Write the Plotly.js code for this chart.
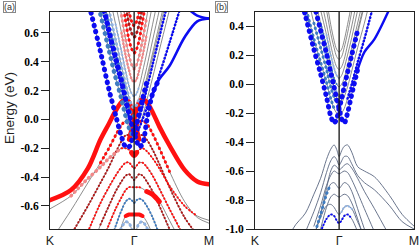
<!DOCTYPE html>
<html><head><meta charset="utf-8">
<script src="https://cdn.plot.ly/plotly-3.0.1.min.js"></script>
<style>html,body{margin:0;padding:0;background:#fff}#c{width:420px;height:248px}</style>
</head><body><div id="c"></div>
<script>
const _ = null;
// k path: K=0, Gamma=1, M=1.89
const kGrid = [0,0.25,0.45,0.6,0.7,0.78,0.85,0.9,0.94,0.97,1.0,1.03,1.06,1.1,1.15,1.22,1.3,1.42,1.6,1.75,1.89];
const kTickPos = [0,1,1.89];
const kLabels = ['K','\u0393','M'];
const yTicksA = [-0.6,-0.4,-0.2,0,0.2,0.4,0.6];
const yTicksB = [-1.0,-0.8,-0.6,-0.4,-0.2,0,0.2,0.4];
// panel (a) valence bands (eV)
const VA1L = [-0.56,-0.49,-0.34,-0.14,-0.03,0.06,0.12,0.14,0.12,0.07,0.0,-0.07,-0.14,_,_,_,_,_,_,_,_];
const VA1R = [_,_,_,_,_,_,_,_,-0.14,-0.07,0.0,0.07,0.12,0.14,0.12,0.05,-0.05,-0.18,-0.35,-0.43,-0.45];
const VA3  = [-0.85,-0.63,-0.44,-0.3,-0.2,-0.11,-0.04,-0.01,-0.02,-0.05,-0.06,-0.05,-0.02,-0.01,-0.03,-0.1,-0.2,-0.36,-0.57,-0.68,-0.72];
const VA3b = [-1.0,-0.8,-0.6,-0.44,-0.33,-0.23,-0.15,-0.11,-0.11,-0.13,-0.14,-0.13,-0.11,-0.11,-0.14,-0.21,-0.31,-0.47,-0.68,-0.8,-0.85];
const VA4  = [-0.62,-0.53,-0.41,-0.33,-0.27,-0.23,-0.2,-0.2,-0.21,-0.23,-0.25,-0.23,-0.21,-0.2,-0.22,-0.27,-0.34,-0.46,-0.6,-0.67,-0.7];
const VA5  = [_,-1.05,-0.78,-0.58,-0.47,-0.39,-0.33,-0.3,-0.3,-0.32,-0.34,-0.32,-0.3,-0.3,-0.33,-0.39,-0.48,-0.62,-0.82,-0.95,-1.0];
const VA6  = [_,_,-0.98,-0.73,-0.6,-0.5,-0.43,-0.39,-0.38,-0.4,-0.42,-0.4,-0.38,-0.39,-0.43,-0.5,-0.6,-0.76,-0.98,_,_];
const VA7  = [_,_,_,-0.88,-0.73,-0.62,-0.54,-0.49,-0.47,-0.47,-0.47,-0.47,-0.47,-0.48,-0.5,-0.52,-0.57,-0.7,-0.9,_,_];
const VA8  = [_,_,_,_,-0.88,-0.74,-0.63,-0.57,-0.55,-0.56,-0.58,-0.56,-0.55,-0.56,-0.6,-0.68,-0.8,-0.98,_,_,_];
const VA9  = [_,_,_,_,_,-0.88,-0.74,-0.67,-0.66,-0.66,-0.66,-0.66,-0.66,-0.67,-0.71,-0.8,-0.92,_,_,_,_];
const VA10 = [_,_,_,_,_,-0.86,-0.75,-0.71,-0.72,-0.76,-0.8,-0.76,-0.72,-0.71,-0.75,-0.86,_,_,_,_,_];
// panel (a) conduction bands
const CB1L = [_,_,0.83,0.47,0.21,0.03,-0.12,-0.19,-0.19,-0.15,-0.09,-0.03,0.04,0.14,0.26,0.43,0.62,0.92,_,_,_];
const CB1R = [_,_,_,0.89,0.62,0.43,0.27,0.14,0.04,-0.03,-0.09,-0.15,-0.19,-0.17,-0.01,0.18,0.28,0.37,0.57,0.68,0.70];
const BM2  = [_,_,_,_,_,_,_,_,_,_,_,_,_,_,_,_,_,_,0.79,0.72,0.70];
const CA1  = [_,_,1.08,0.73,0.48,0.29,0.14,0.02,-0.06,-0.10,-0.12,-0.10,-0.06,0.02,0.13,0.29,0.48,0.76,_,_,_];
const CA2  = [_,_,1.19,0.83,0.57,0.38,0.22,0.09,0.01,-0.03,-0.05,-0.03,0.01,0.09,0.21,0.38,0.57,0.86,_,_,_];
const CA3  = [_,_,1.3,0.93,0.66,0.46,0.30,0.17,0.08,0.04,0.02,0.04,0.08,0.17,0.29,0.46,0.66,0.96,_,_,_];
const CA4  = [_,_,_,1.05,0.76,0.55,0.37,0.24,0.15,0.10,0.08,0.10,0.15,0.24,0.36,0.55,0.76,1.08,_,_,_];
const CA5  = [_,_,_,1.19,0.88,0.66,0.47,0.33,0.23,0.18,0.16,0.18,0.23,0.33,0.46,0.66,0.88,1.2,_,_,_];
const CA6  = [_,_,_,_,1.04,0.80,0.60,0.44,0.34,0.28,0.26,0.28,0.34,0.44,0.59,0.80,1.04,_,_,_,_];
const CA7  = [_,_,_,_,1.21,0.95,0.72,0.55,0.44,0.38,0.35,0.38,0.44,0.55,0.71,0.95,1.21,_,_,_,_];
const CA8  = [_,_,_,_,_,1.1,0.86,0.68,0.55,0.49,0.46,0.49,0.55,0.68,0.85,1.1,_,_,_,_,_];
const CA9  = [_,_,_,_,_,1.21,0.97,0.79,0.66,0.60,0.57,0.60,0.66,0.79,0.96,1.21,_,_,_,_,_];
const CA10 = [_,_,_,_,_,_,1.1,0.89,0.75,0.68,0.65,0.68,0.75,0.89,1.08,_,_,_,_,_,_];
const CA11 = [_,_,_,_,_,_,_,_,-0.1,-0.12,-0.12,-0.1,-0.06,0.0,0.08,0.17,0.31,0.53,0.87,_,_];
// panel (b) conduction bands
const CBLb = [_,_,0.8,0.47,0.24,0.07,-0.09,-0.22,-0.27,-0.24,-0.17,-0.1,-0.02,0.08,0.2,0.37,0.56,_,_,_,_];
const CBRb = [_,_,_,0.85,0.56,0.37,0.21,0.08,-0.02,-0.1,-0.17,-0.24,-0.27,-0.2,-0.07,0.1,0.22,0.31,0.52,0.72,0.9];
const CBb1 = [_,_,0.85,0.54,0.31,0.15,0.01,-0.10,-0.17,-0.20,-0.22,-0.20,-0.17,-0.10,0.0,0.15,0.31,0.57,_,_,_];
const CBb2 = [_,_,1.0,0.67,0.42,0.25,0.10,-0.02,-0.09,-0.13,-0.15,-0.13,-0.09,-0.02,0.09,0.25,0.42,0.70,_,_,_];
const CBb3 = [_,_,1.16,0.80,0.54,0.35,0.19,0.06,-0.02,-0.06,-0.08,-0.06,-0.02,0.06,0.18,0.35,0.54,0.83,_,_,_];
const CBb4 = [_,_,1.26,0.89,0.62,0.42,0.26,0.13,0.04,0.0,-0.02,0.0,0.04,0.13,0.25,0.42,0.62,0.92,_,_,_];
const CBb5 = [_,_,1.4,1.01,0.72,0.51,0.34,0.20,0.11,0.06,0.04,0.06,0.11,0.20,0.32,0.51,0.72,1.04,_,_,_];
const CBb6 = [_,_,_,1.13,0.82,0.60,0.41,0.27,0.17,0.12,0.10,0.12,0.17,0.27,0.40,0.60,0.82,1.16,_,_,_];
const CBb7 = [_,_,_,1.29,0.95,0.71,0.51,0.35,0.25,0.19,0.17,0.19,0.25,0.35,0.50,0.71,0.95,1.29,_,_,_];
const CBb8 = [_,_,_,_,1.04,0.79,0.58,0.41,0.30,0.24,0.22,0.24,0.30,0.41,0.56,0.79,1.04,_,_,_,_];
// panel (b) valence bands
const VB1  = [_,-1.4,-1.0,-0.89,-0.76,-0.65,-0.52,-0.45,-0.42,-0.45,-0.5,-0.46,-0.43,-0.42,-0.47,-0.57,-0.6,-0.64,-0.77,-0.9,-0.98];
const VB2  = [_,_,_,-1.02,-0.88,-0.75,-0.61,-0.53,-0.5,-0.52,-0.56,-0.53,-0.5,-0.5,-0.55,-0.63,-0.68,-0.73,-0.84,-0.95,-1.0];
const VB2b = [_,_,_,_,_,-0.9,-0.72,-0.6,-0.56,-0.57,-0.59,-0.58,-0.56,-0.55,-0.58,-0.65,-0.74,-0.86,-1.05,_,_];
const VB3  = [_,_,_,_,-0.98,-0.84,-0.7,-0.63,-0.6,-0.61,-0.62,-0.61,-0.6,-0.61,-0.66,-0.75,-0.86,-1.02,_,_,_];
const VB4  = [_,_,_,_,-1.05,-0.9,-0.76,-0.69,-0.68,-0.7,-0.72,-0.7,-0.68,-0.69,-0.74,-0.86,-1.0,_,_,_,_];
const VB5  = [_,_,_,_,_,-1.0,-0.85,-0.78,-0.76,-0.77,-0.78,-0.77,-0.76,-0.77,-0.82,-0.93,-1.08,_,_,_,_];
const VB6  = [_,_,_,_,-1.05,-0.92,-0.84,-0.83,-0.85,-0.88,-0.9,-0.88,-0.85,-0.84,-0.86,-0.95,-1.05,_,_,_,_];
const VB7  = [_,_,_,_,_,-1.02,-0.93,-0.9,-0.91,-0.94,-0.96,-0.94,-0.91,-0.9,-0.93,-1.02,_,_,_,_,_];

const BLUE='#0c0cf2', STEEL='#3f7cc0', LIGHT='#8fb2e2', RED='#ff1010', DRED='#b01818', PINK='#f28888';
const GRAY='#707070', SLATE='#5a6680';
const BIG='0.5px,6px', MED='0.5px,4.5px', SMALL='0.5px,3px';
const traces = [];
function band(e, panel, color, width, dash, i0, i1) {
  const a = (i0===undefined)?0:i0, b = (i1===undefined)?kGrid.length-1:i1;
  traces.push({x:kGrid.slice(a,b+1), y:e.slice(a,b+1),
    xaxis: panel==='b'?'x2':'x', yaxis: panel==='b'?'y2':'y',
    mode:'lines', hoverinfo:'skip', connectgaps:false,
    line:{shape:'spline', smoothing:0.9, color:color, width:width, dash:dash||'solid'}});
}
[VA3,VA3b,VA4,VA5,VA6,VA7,VA8,VA9,VA10].forEach(e=>band(e,'a',GRAY,0.8));
[CB1L,CB1R,CA1,CA2,CA3,CA4,CA5,CA6,CA7,CA8,CA9,CA10,CA11].forEach(e=>band(e,'a',GRAY,0.8));
band(VA3b,'a',DRED,2,SMALL,1,19);
band(VA5,'a',RED,2,SMALL,2,18);
band(VA6,'a',DRED,2,SMALL,3,17);
band(VA7,'a',RED,2,SMALL,3,13);
band(VA7,'a',RED,5,'solid',14,16);
band(VA8,'a',STEEL,2,SMALL,4,16);
band(VA10,'a',LIGHT,3,MED,5,15);
band(VA9,'a',RED,4,'solid',7,13);
band(VA4,'a',PINK,3.5,MED,1,6);
band(VA4,'a',RED,2,SMALL,6,19);
band(VA4,'a',RED,5,'solid',9,11);
band(VA3,'a',RED,3,MED,3,17);
band(VA1L,'a',RED,4.5);
band(VA1R,'a',RED,4.5);
band(CA5,'a',LIGHT,2,SMALL,5,12);
band(CA4,'a',LIGHT,3,MED,4,12);
band(CA3,'a',STEEL,3,MED,3,10);
band(CA6,'a',PINK,2.5,SMALL,6,14);
band(CA7,'a',PINK,3,MED,6,14);
band(CA8,'a',RED,3,MED,6,14);
band(CA9,'a',DRED,3,MED,6,14);
band(CA10,'a',RED,3,MED,7,13);
band(CA2,'a',BLUE,2.5,SMALL,2,17);
band(CA11,'a',BLUE,2.5,SMALL,11,18);
band(CA1,'a',STEEL,4.5,BIG,3,10);
band(CB1L,'a',BLUE,5,BIG,2,14);
band(CB1R,'a',BLUE,5,BIG,3,16);
band(CB1R,'a',BLUE,2.6,'solid',15,20);
band(BM2,'a',BLUE,2.6,'solid',18,20);
[VB1,VB2,VB2b,VB3,VB4,VB5,VB6,VB7].forEach(e=>band(e,'b',SLATE,0.9));
[CBb1,CBb2,CBb3,CBb4,CBb5,CBb6,CBb7,CBb8,CBLb,CBRb].forEach(e=>band(e,'b',GRAY,0.8));
band(VB4,'b',STEEL,3,MED,4,7);
band(VB7,'b',BLUE,2,SMALL,5,14);
band(VB6,'b',LIGHT,2,SMALL,10,14);
band(CBb5,'b',LIGHT,2,SMALL,6,10);
band(CBb4,'b',STEEL,2,SMALL,5,9);
band(CBb3,'b',LIGHT,3,MED,5,10);
band(CBb2,'b',STEEL,3,MED,4,9);
band(CBb1,'b',STEEL,3,MED,3,8);
band(CBb1,'b',BLUE,2.5,SMALL,13,17);
band(CBLb,'b',BLUE,5,BIG,2,15);
band(CBRb,'b',BLUE,5,BIG,3,15);
band(CBRb,'b',BLUE,2.4,'solid',15,20);

const tickFont = {family:'Liberation Serif', size:11.5, weight:'bold', color:'#000'};
const kFont = {family:'Liberation Sans', size:12.5, color:'#222'};
function xAx(dom){return {domain:dom, range:[0,1.89], showline:true, mirror:true, linecolor:'#222', linewidth:1,
  tickmode:'array', tickvals:kTickPos, ticktext:kLabels, ticks:'', tickfont:kFont,
  showgrid:false, zeroline:false, fixedrange:true};}
function yAx(anchor, rng, tv){return {anchor:anchor, domain:[0,1], range:rng, showline:true, mirror:true,
  linecolor:'#222', linewidth:1, tickmode:'array', tickvals:tv, ticktext:tv.map(v=>v.toFixed(1)),
  ticks:'outside', ticklen:8, tickwidth:1, tickcolor:'#222', tickfont:tickFont, showticklabels:true,
  showgrid:false, zeroline:false, fixedrange:true};}
const layout = {
  width:420, height:248, margin:{l:50, r:6, t:12, b:19},
  paper_bgcolor:'#fff', plot_bgcolor:'#fff', showlegend:false,
  xaxis: xAx([0,0.4368]), xaxis2: Object.assign(xAx([0.5632,1]),{anchor:'y2'}),
  yaxis: yAx('x',[-0.76,0.745],yTicksA),
  yaxis2: yAx('x2',[-1.0,0.497],yTicksB),
  shapes:[
    {type:'line', xref:'x', yref:'y domain', x0:1, x1:1, y0:0, y1:1, line:{color:'#111', width:1.3}, layer:'above'},
    {type:'line', xref:'x2', yref:'y2 domain', x0:1, x1:1, y0:0, y1:1, line:{color:'#111', width:1.3}, layer:'above'}
  ],
  annotations:[
    {text:'Energy (eV)', xref:'paper', yref:'paper', x:-0.1126, y:0.5576, textangle:-90, showarrow:false,
     xanchor:'center', yanchor:'middle', font:{family:'Liberation Sans', size:13.5, color:'#222'}},
    {text:'(a)', xref:'paper', yref:'paper', x:-0.1099, y:1.023, showarrow:false, xanchor:'center', yanchor:'middle',
     font:{family:'Liberation Sans', size:9, color:'#333'}, bordercolor:'#888', borderwidth:1, borderpad:0},
    {text:'(b)', xref:'paper', yref:'paper', x:0.4712, y:1.023, showarrow:false, xanchor:'center', yanchor:'middle',
     font:{family:'Liberation Sans', size:9, color:'#333'}, bordercolor:'#888', borderwidth:1, borderpad:0}
  ]
};
Plotly.newPlot('c', traces, layout, {staticPlot:true, displayModeBar:false}).then(()=>{
  document.querySelectorAll('#c path.js-line').forEach(p=>{p.style.strokeLinecap='round';});
});
</script></body></html>
